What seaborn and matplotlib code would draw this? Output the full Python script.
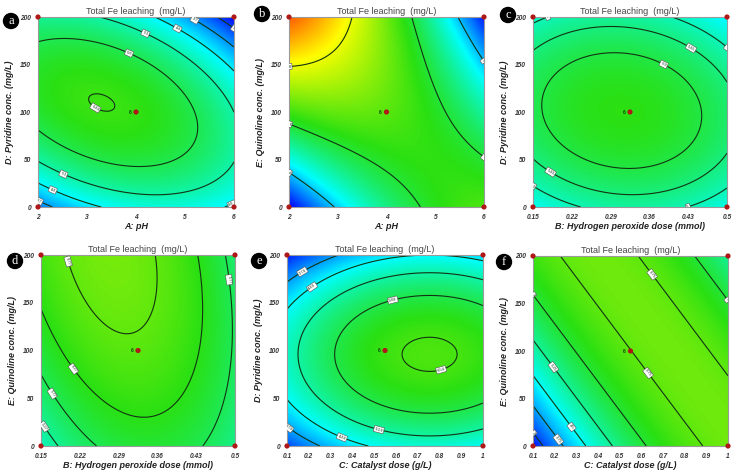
import numpy as np
import matplotlib
matplotlib.use("Agg")
import matplotlib.pyplot as plt
from matplotlib.colors import LinearSegmentedColormap, Normalize
import seaborn as sns

# factor ranges, ticks and names
ph_range = [2, 6]
ph_ticks = [2, 3, 4, 5, 6]
ph_labels = ["2", "3", "4", "5", "6"]
h2o2_range = [0.15, 0.5]
h2o2_ticks = [0.15, 0.22, 0.29, 0.36, 0.43, 0.5]
h2o2_labels = ["0.15", "0.22", "0.29", "0.36", "0.43", "0.5"]
cat_range = [0.1, 1.0]
cat_ticks = [0.1, 0.2, 0.3, 0.4, 0.5, 0.6, 0.7, 0.8, 0.9, 1.0]
cat_labels = ["0.1", "0.2", "0.3", "0.4", "0.5", "0.6", "0.7", "0.8", "0.9", "1"]
conc_range = [0, 200]
conc_ticks = [0, 50, 100, 150, 200]
conc_labels = ["0", "50", "100", "150", "200"]

# quadratic model in coded units: b0, bu, bv, buu, bvv, buv
coef_a = [6.367, -0.469, 0.0195, -0.8, -1.69, -0.91]
coef_b = [6.7, -0.625, 0.775, -0.875, -0.55, -2.725]
coef_c = [6.3, -0.1, 0.02, -0.6, -1.1, -0.15]
coef_d = [6.69, -0.135, 0.435, -0.845, -0.244, -0.338]
coef_e = [6.429, 0.737, -0.16, -0.81, -2.0, 0.0]
coef_f = [6.742, 0.771, 0.563, -0.94, -0.501, -1.372]

levels_a = [3.0, 3.7, 4.4, 5.1, 5.8, 6.438]
levels_b = [4.0, 6.0, 8.0]
levels_c = [5.0, 5.45, 5.9]
levels_d = [5.27, 5.77, 6.27, 6.77]
levels_e = [3.74, 4.44, 5.14, 5.84, 6.536]
levels_f = [3.0, 3.75, 4.5, 5.25, 6.0, 6.75]

center_reps = 6
title = "Total Fe leaching  (mg/L)"

panels = [
    ("a", "A: pH", "D: Pyridine conc. (mg/L)", ph_range, ph_ticks, ph_labels, coef_a, levels_a),
    ("b", "A: pH", "E: Quinoline conc. (mg/L)", ph_range, ph_ticks, ph_labels, coef_b, levels_b),
    ("c", "B: Hydrogen peroxide dose (mmol)", "D: Pyridine conc. (mg/L)", h2o2_range, h2o2_ticks, h2o2_labels, coef_c, levels_c),
    ("d", "B: Hydrogen peroxide dose (mmol)", "E: Quinoline conc. (mg/L)", h2o2_range, h2o2_ticks, h2o2_labels, coef_d, levels_d),
    ("e", "C: Catalyst dose (g/L)", "D: Pyridine conc. (mg/L)", cat_range, cat_ticks, cat_labels, coef_e, levels_e),
    ("f", "C: Catalyst dose (g/L)", "E: Quinoline conc. (mg/L)", cat_range, cat_ticks, cat_labels, coef_f, levels_f),
]

# axes boxes in pixels: left, top, right, bottom
boxes = [(38, 17, 234, 207), (289, 17, 484, 207), (533, 17, 727, 207),
         (41, 255, 235, 446), (287, 255, 483, 446), (533, 256, 728, 446)]
letter_pos = [(11, 21), (262, 14), (508, 15), (15, 261), (259, 261), (504, 262)]

W, H = 738, 473
sns.set_style("white")
plt.rcParams["font.family"] = ["Liberation Sans", "DejaVu Sans"]

cmap = LinearSegmentedColormap.from_list(
    "dx", ["#0010ff", "#00ffff", "#2ae012", "#ffff00", "#ff1000"])
norm = Normalize(vmin=2.6, vmax=10)

fig = plt.figure(figsize=(W / 100, H / 100), dpi=100)
fig.patch.set_facecolor("white")

u = np.linspace(-1, 1, 240)
U, V = np.meshgrid(u, u)

for i, (letter, xlab, ylab, xr, xt, xtl, cf, lv) in enumerate(panels):
    l, t, r, b = boxes[i]
    ax = fig.add_axes([l / W, 1 - b / H, (r - l) / W, (b - t) / H])
    X = xr[0] + (U + 1) / 2 * (xr[1] - xr[0])
    Y = conc_range[0] + (V + 1) / 2 * (conc_range[1] - conc_range[0])
    Z = cf[0] + cf[1] * U + cf[2] * V + cf[3] * U ** 2 + cf[4] * V ** 2 + cf[5] * U * V
    ax.pcolormesh(X, Y, Z, cmap=cmap, norm=norm, shading="gouraud")
    cs = ax.contour(X, Y, Z, levels=lv, colors="#123312", linewidths=0.8)
    txts = ax.clabel(cs, fmt=lambda v: f"{v:.3g}", fontsize=3, inline=True, inline_spacing=1)
    for tx in txts:
        tx.set_bbox(dict(boxstyle="square,pad=0.25", fc="white", ec="#555555", lw=0.4))

    # design points: corners and centre point
    px = [xr[0], xr[1], xr[0], xr[1], np.mean(xr)]
    py = [conc_range[0], conc_range[0], conc_range[1], conc_range[1], np.mean(conc_range)]
    sns.scatterplot(x=px, y=py, color="#b01818", s=14, edgecolor="none",
                    ax=ax, clip_on=False, zorder=5)
    ax.text(np.mean(xr) - 0.025 * (xr[1] - xr[0]), np.mean(conc_range), str(center_reps),
            fontsize=3.5, color="#0a4a0a", fontweight="bold", ha="right", va="center")

    ax.set_xlim(xr)
    ax.set_ylim(conc_range)
    ax.set_xticks(xt)
    ax.set_xticklabels(xtl)
    ax.set_yticks(conc_ticks)
    ax.set_yticklabels(conc_labels)
    ax.tick_params(length=2, width=0.5, color="#888888", pad=3,
                   labelsize=4.8, labelcolor="#333333")
    for lab in ax.get_xticklabels() + ax.get_yticklabels():
        lab.set_fontweight("bold")
        lab.set_fontstyle("italic")
    for sp in ax.spines.values():
        sp.set_color("#9a9a9a")
        sp.set_linewidth(0.8)

    ax.set_xlabel(xlab, fontsize=6.5, fontweight="bold", fontstyle="italic", color="#222222")
    ax.set_ylabel(ylab, fontsize=6.5, fontweight="bold", fontstyle="italic", color="#222222")
    ax.xaxis.set_label_coords(0.5, -15 / (b - t))
    ax.yaxis.set_label_coords(-24 / (r - l), 0.5)
    ax.set_title(title, fontsize=6.5, color="#444444", pad=2)

    lx, ly = letter_pos[i]
    fig.text(lx / W, 1 - ly / H, letter, fontsize=9, color="white",
             family=["Liberation Serif", "DejaVu Serif"], ha="center", va="center",
             bbox=dict(boxstyle="circle,pad=0.12", fc="black", ec="black"))

fig.savefig("out.png", dpi=100, facecolor="white")
